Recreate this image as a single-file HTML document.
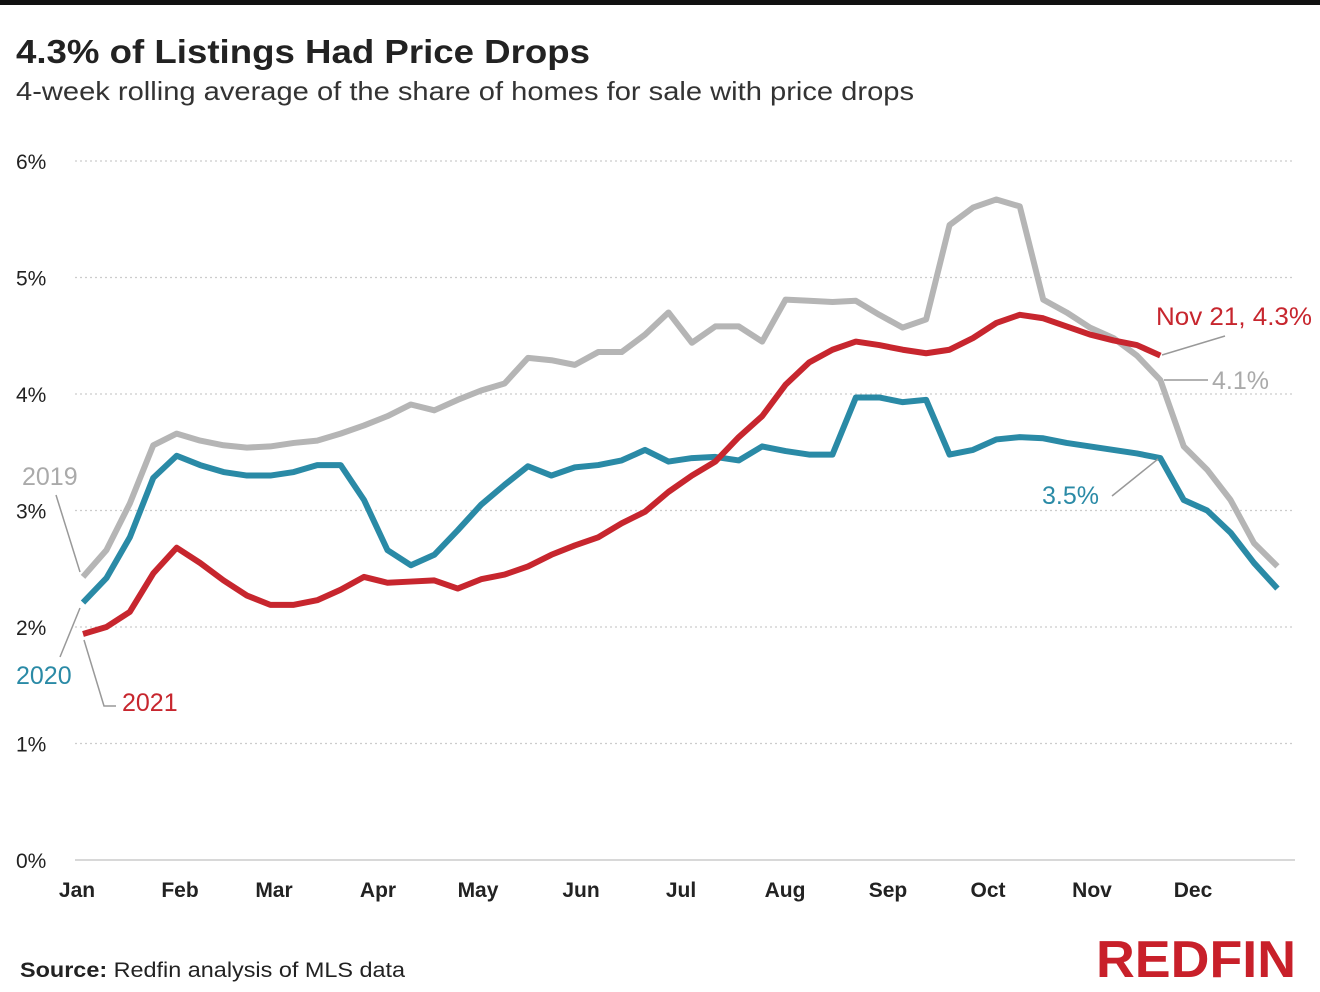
<!DOCTYPE html>
<html><head><meta charset="utf-8"><style>
body{margin:0;background:#fff;width:1320px;height:987px;overflow:hidden;font-family:"Liberation Sans",sans-serif}
</style></head><body>
<svg width="1320" height="987" xmlns="http://www.w3.org/2000/svg" font-family="Liberation Sans, sans-serif">
<rect x="0" y="0" width="1320" height="5" fill="#111"/>
<text x="16" y="63" font-size="33" font-weight="bold" fill="#222" textLength="574" lengthAdjust="spacingAndGlyphs">4.3% of Listings Had Price Drops</text>
<text x="16" y="100" font-size="26" fill="#333" textLength="898" lengthAdjust="spacingAndGlyphs">4-week rolling average of the share of homes for sale with price drops</text>
<g id="grid"></g><g id="ylab"></g><g id="xlab"></g><g id="lines"></g>
<g>
<line x1="56" y1="495" x2="80" y2="572" stroke="#999" stroke-width="1.5"/>
<text x="22" y="485" font-size="25" fill="#aaa">2019</text>
<line x1="60" y1="657" x2="80" y2="608" stroke="#999" stroke-width="1.5"/>
<text x="16" y="684" font-size="25" fill="#2a8aa6">2020</text>
<polyline points="84,640 104,706 116,706" fill="none" stroke="#999" stroke-width="1.5"/>
<text x="122" y="711" font-size="25" fill="#c7262e">2021</text>
<line x1="1162" y1="355" x2="1225" y2="336" stroke="#999" stroke-width="1.5"/>
<text x="1156" y="325" font-size="25" fill="#c7262e" textLength="156" lengthAdjust="spacingAndGlyphs">Nov 21, 4.3%</text>
<line x1="1164" y1="380" x2="1208" y2="380" stroke="#999" stroke-width="1.5"/>
<text x="1212" y="389" font-size="25" fill="#aaa">4.1%</text>
<line x1="1112" y1="496" x2="1158" y2="459" stroke="#999" stroke-width="1.5"/>
<text x="1042" y="504" font-size="25" fill="#2a8aa6">3.5%</text>
</g>
<text x="20" y="977" font-size="21" fill="#222" textLength="385" lengthAdjust="spacingAndGlyphs"><tspan font-weight="bold">Source:</tspan> Redfin analysis of MLS data</text>
<text x="1296" y="977" font-size="52" font-weight="bold" fill="#c8202a" text-anchor="end" textLength="200" lengthAdjust="spacingAndGlyphs">REDFIN</text>
</svg>
<script>
const months=["Jan","Feb","Mar","Apr","May","Jun","Jul","Aug","Sep","Oct","Nov","Dec"];
const monthX=[77,180,274,378,478,581,681,785,888,988,1092,1193];
const yTicks=[0,1,2,3,4,5,6];
const s2019=[2.43,2.66,3.06,3.56,3.66,3.60,3.56,3.54,3.55,3.58,3.60,3.66,3.73,3.81,3.91,3.86,3.95,4.03,4.09,4.31,4.29,4.25,4.36,4.36,4.51,4.70,4.44,4.58,4.58,4.45,4.81,4.80,4.79,4.80,4.68,4.57,4.64,5.45,5.60,5.67,5.61,4.81,4.70,4.57,4.48,4.33,4.12,3.55,3.35,3.09,2.72,2.52];
const s2020=[2.21,2.42,2.77,3.28,3.47,3.39,3.33,3.30,3.30,3.33,3.39,3.39,3.09,2.66,2.53,2.62,2.83,3.05,3.22,3.38,3.30,3.37,3.39,3.43,3.52,3.42,3.45,3.46,3.43,3.55,3.51,3.48,3.48,3.97,3.97,3.93,3.95,3.48,3.52,3.61,3.63,3.62,3.58,3.55,3.52,3.49,3.45,3.09,3.00,2.81,2.55,2.33];
const s2021=[1.94,2.00,2.13,2.46,2.68,2.55,2.40,2.27,2.19,2.19,2.23,2.32,2.43,2.38,2.39,2.40,2.33,2.41,2.45,2.52,2.62,2.70,2.77,2.89,2.99,3.16,3.30,3.42,3.63,3.81,4.08,4.27,4.38,4.45,4.42,4.38,4.35,4.38,4.48,4.61,4.68,4.65,4.58,4.51,4.46,4.42,4.33];
const NS="http://www.w3.org/2000/svg";
const y=v=>860-v*116.5;
const x=i=>83+i*23.42;
const mk=(t,a,p)=>{const e=document.createElementNS(NS,t);for(const k in a)e.setAttribute(k,a[k]);p.appendChild(e);return e;};
const grid=document.getElementById('grid'),yl=document.getElementById('ylab'),xl=document.getElementById('xlab'),ln=document.getElementById('lines');
yTicks.forEach(t=>{
 const g=mk('line',{x1:75,x2:1295,y1:y(t),y2:y(t),stroke:'#ccc','stroke-width':t===0?1.5:1.3,'stroke-dasharray':t===0?'':'2,3'},grid);
 
 
 const l=mk('text',{x:16,y:y(t)+8,'font-size':21,fill:'#222'},yl);l.textContent=t+'%';
 
 
});
months.forEach((m,i)=>{
 const l=mk('text',{x:monthX[i],y:897,'font-size':21,'font-weight':'bold',fill:'#222','text-anchor':'middle'},xl);l.textContent=m;
 
 
});
[[s2019,'#b5b5b5','line-2019'],[s2020,'#2a8aa6','line-2020'],[s2021,'#c7262e','line-2021']].forEach(([d,c,n])=>{
 const p=mk('polyline',{points:d.map((v,i)=>x(i)+','+y(v)).join(' '),fill:'none',stroke:c,'stroke-width':6,'stroke-linejoin':'round'},ln);
 
 
});
</script>
</body></html>
